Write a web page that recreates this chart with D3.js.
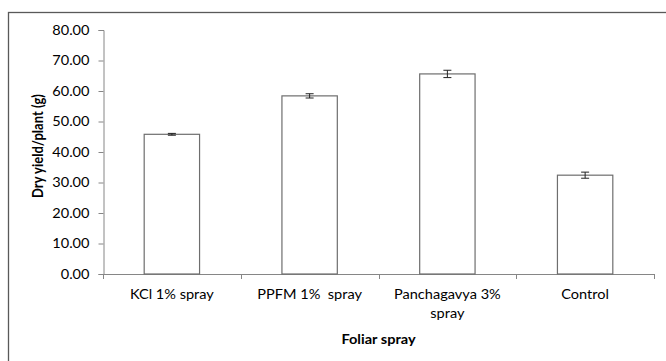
<!DOCTYPE html>
<html>
<head>
<meta charset="utf-8">
<script src="https://cdn.jsdelivr.net/npm/d3@7"></script>
<style>
body { margin:0; background:#fff; }
svg text { font-family: Lato, "Open Sans", sans-serif; fill:#000; white-space: pre; }
</style>
</head>
<body>
<svg id="chart" width="666" height="361"></svg>
<script>
const categories = ["KCl 1% spray", "PPFM 1%  spray", "Panchagavya 3% spray", "Control"];
const categoryLines = [["KCl 1% spray"], ["PPFM 1%  spray"], ["Panchagavya 3%", "spray"], ["Control"]];
const values = [45.8, 58.4, 65.6, 32.4];
const errors = [0.3, 0.7, 1.2, 1.0];
const yTicks = [0, 10, 20, 30, 40, 50, 60, 70, 80];
const yTitle = "Dry yield/plant (g)";
const xTitle = "Foliar spray";

const svg = d3.select("#chart");
const SX = 1.12;
const m = {left:103, top:30, right:12, bottom:87};
const W = 666, H = 361;
const x0 = m.left, x1 = W - m.right, y0 = H - m.bottom, y1 = m.top;

// outer frame (extends past bottom/right)
svg.append("rect").attr("x", 8.5).attr("y", 12.5).attr("width", 700).attr("height", 400)
  .attr("fill", "none").attr("stroke", "#595959").attr("stroke-width", 1.3);

const x = d3.scaleBand().domain(categories).range([x0, x1]).paddingInner(0.598).paddingOuter(0.299);
const y = d3.scaleLinear().domain([0, 80]).range([y0, y1]);

// y axis
const ya = svg.append("g").attr("transform", `translate(${x0 + 0.5},0)`)
  .call(d3.axisLeft(y).tickValues(yTicks).tickFormat(d3.format(".2f")).tickSize(5).tickPadding(9));
ya.select(".domain").attr("stroke", "#868686");
ya.selectAll(".tick line").attr("stroke", "#868686");
ya.selectAll(".tick text").attr("font-size", 13).attr("font-family", "Lato")
  .attr("transform", `scale(${SX},1)`).attr("x", -14 / SX);

// x axis line and ticks at band boundaries
const step = x.step();
const bounds = d3.range(categories.length + 1).map(i => x0 + i * step);
svg.append("line").attr("x1", x0).attr("x2", x1).attr("y1", y0 + 0.5).attr("y2", y0 + 0.5)
  .attr("stroke", "#868686");
svg.selectAll(".xt").data(bounds).join("line").attr("class", "xt")
  .attr("x1", d => Math.round(d) + 0.5).attr("x2", d => Math.round(d) + 0.5)
  .attr("y1", y0).attr("y2", y0 + 5).attr("stroke", "#868686");

// bars
svg.selectAll(".bar").data(values).join("rect").attr("class", "bar")
  .attr("x", (d, i) => x(categories[i]))
  .attr("y", d => y(d))
  .attr("width", x.bandwidth())
  .attr("height", d => y(0) - y(d))
  .attr("fill", "#fff").attr("stroke", "#6e6e6e").attr("stroke-width", 1.2);

// error bars
const eb = svg.selectAll(".eb").data(values).join("g").attr("class", "eb");
eb.append("line")
  .attr("x1", (d, i) => x(categories[i]) + x.bandwidth() / 2)
  .attr("x2", (d, i) => x(categories[i]) + x.bandwidth() / 2)
  .attr("y1", (d, i) => y(d + errors[i])).attr("y2", (d, i) => y(d - errors[i]))
  .attr("stroke", "#222");
[1, -1].forEach(s => {
  eb.append("line")
    .attr("x1", (d, i) => x(categories[i]) + x.bandwidth() / 2 - 4)
    .attr("x2", (d, i) => x(categories[i]) + x.bandwidth() / 2 + 4)
    .attr("y1", (d, i) => y(d + s * errors[i])).attr("y2", (d, i) => y(d + s * errors[i]))
    .attr("stroke", "#222");
});

// x category labels
categoryLines.forEach((lines, i) => {
  const cx = x(categories[i]) + x.bandwidth() / 2;
  lines.forEach((ln, j) => {
    svg.append("g").attr("transform", `translate(${cx},${299 + j * 19})`)
      .append("text").attr("transform", `scale(${SX},1)`)
      .attr("xml:space", "preserve")
      .attr("text-anchor", "middle").attr("font-size", 13).text(ln);
  });
});

// axis titles
svg.append("g").attr("transform", `translate(${(x0 + x1) / 2},${344})`)
  .append("text").attr("transform", `scale(${SX},1)`)
  .attr("text-anchor", "middle").attr("font-size", 13).attr("font-weight", "bold").text(xTitle);

svg.append("g").attr("transform", `translate(43,${146}) scale(${SX},1)`)
  .append("text").attr("transform", "rotate(-90)")
  .attr("text-anchor", "middle").attr("font-size", 13).attr("font-weight", "bold").text(yTitle);
</script>
</body>
</html>
